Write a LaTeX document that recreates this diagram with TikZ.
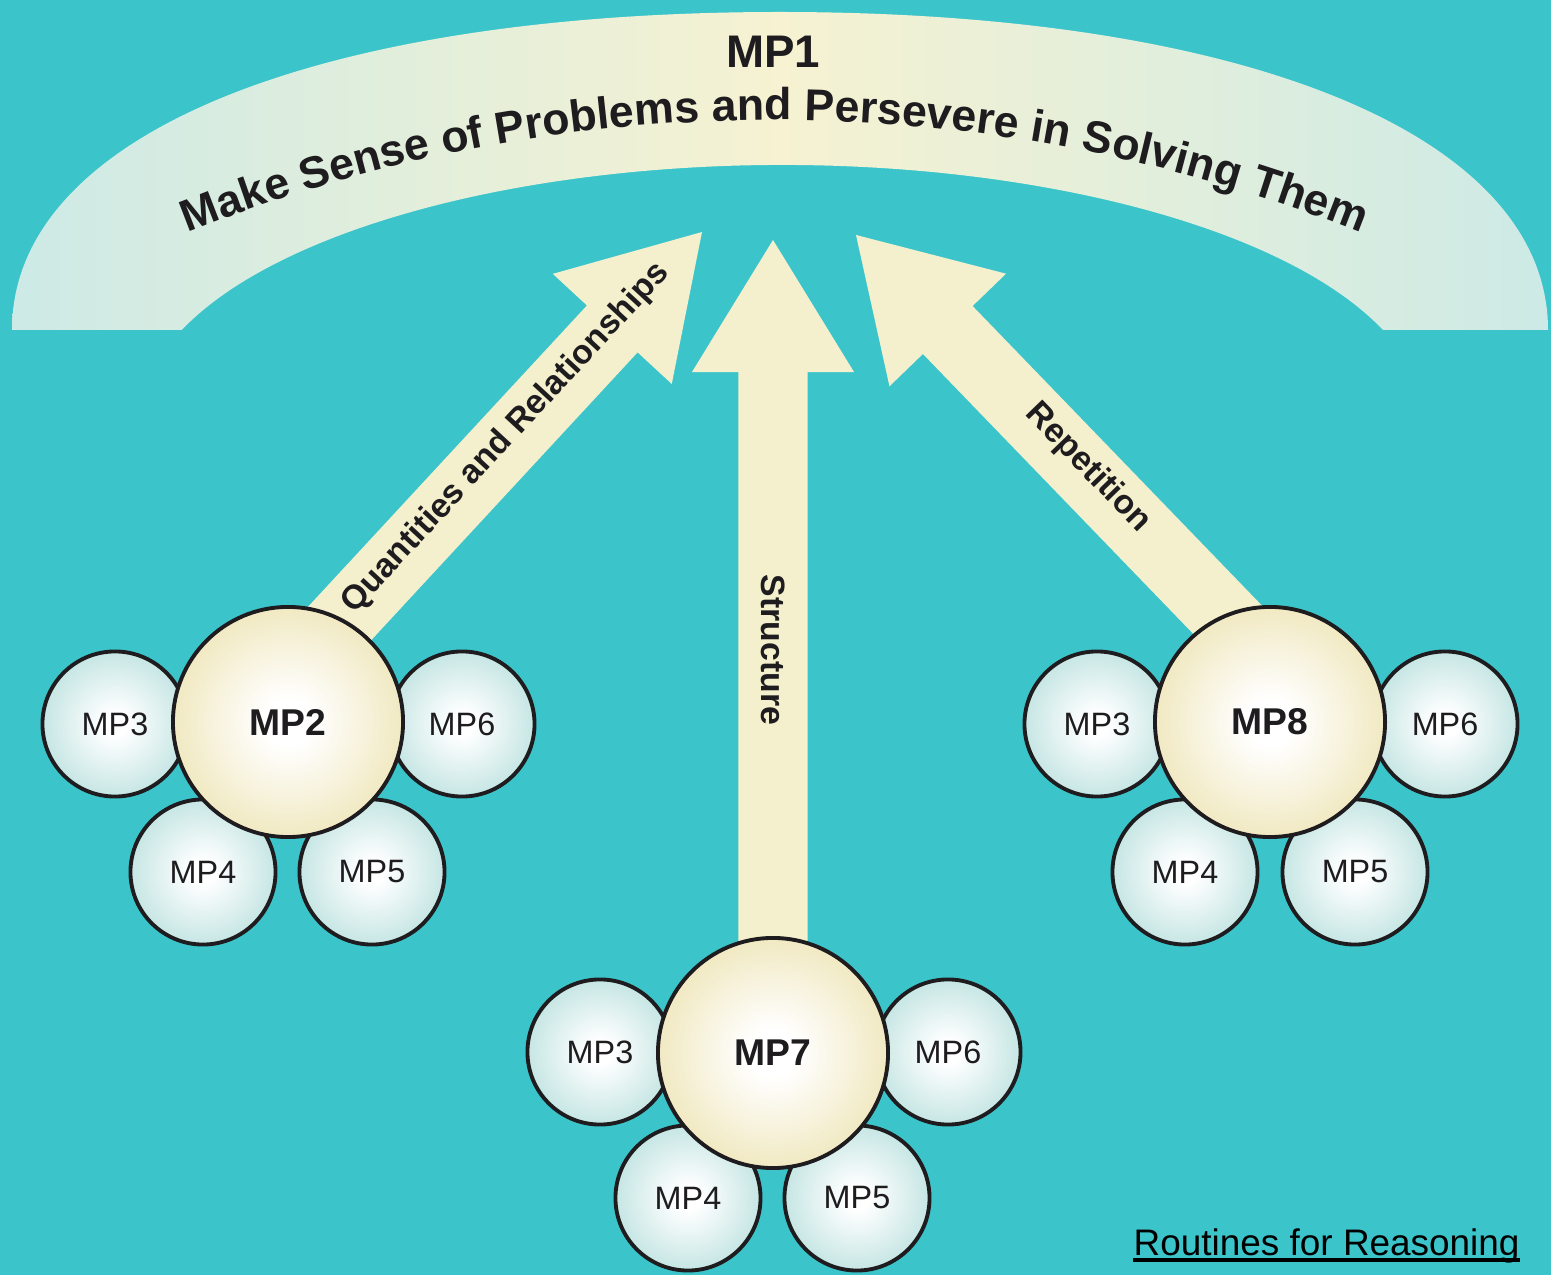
\documentclass[tikz,border=0pt]{standalone}
\usepackage{fontspec}
\setmainfont{Liberation Sans}
\usetikzlibrary{calc,decorations.text}
\definecolor{bg}{RGB}{59,197,203}
\definecolor{cream}{RGB}{244,240,206}
\definecolor{creamedge}{RGB}{241,233,194}
\definecolor{pale}{RGB}{198,230,228}
\definecolor{bandedge}{RGB}{205,234,230}
\definecolor{bandmid}{RGB}{246,242,210}
\definecolor{txt}{RGB}{30,28,30}
\pgfdeclareradialshading{bigshade}{\pgfpoint{0bp}{0bp}}{color(0bp)=(white); color(5bp)=(white); color(25bp)=(creamedge); color(50bp)=(creamedge)}
\pgfdeclareradialshading{smallshade}{\pgfpoint{0bp}{0bp}}{color(0bp)=(white); color(4bp)=(white); color(25bp)=(pale); color(50bp)=(pale)}
\pgfdeclarelayer{back}
\pgfsetlayers{back,main}
\tikzset{
  bigc/.style={circle, draw=txt, line width=1.1pt, minimum size=2.3cm, inner sep=0pt, shade, shading=bigshade, font=\fontsize{10.6pt}{12pt}\selectfont\bfseries, text=txt},
  smallc/.style={circle, draw=txt, line width=1.1pt, minimum size=1.45cm, inner sep=0pt, shade, shading=smallshade, font=\fontsize{9.2pt}{11pt}\selectfont, text=txt},
  lbl/.style={font=\fontsize{9.6pt}{11pt}\selectfont\bfseries, text=txt, inner sep=0pt},
}
\newcommand\blockarr[3]{%
  \coordinate (#3h) at ($(#2)!1.32cm!(#1)$);
  \fill[cream] ($(#1)!0.345cm!90:(#2)$) -- ($(#3h)!0.345cm!90:(#2)$) -- ($(#3h)!0.81cm!90:(#2)$) -- (#2)
    -- ($(#3h)!0.81cm!-90:(#2)$) -- ($(#3h)!0.345cm!-90:(#2)$) -- ($(#1)!0.345cm!-90:(#2)$) -- cycle;
}
\begin{document}
\begin{tikzpicture}[x=0.01cm,y=0.01cm]
\useasboundingbox (0,0) rectangle (1551,1275);
% left cluster
\node[smallc] (l3) at (115,551) {MP3};
\node[smallc] (l6) at (462,551) {MP6};
\node[smallc] (l4) at (203,403) {MP4};
\node[smallc] (l5) at (372,403) {MP5};
\node[bigc] (m2) at (288,553) {MP2};
% middle cluster
\node[smallc] (c3) at (600,223) {MP3};
\node[smallc] (c6) at (948,223) {MP6};
\node[smallc] (c4) at (688,77) {MP4};
\node[smallc] (c5) at (857,77) {MP5};
\node[bigc] (m7) at (773,222) {MP7};
% right cluster
\node[smallc] (r3) at (1097,551) {MP3};
\node[smallc] (r6) at (1445,551) {MP6};
\node[smallc] (r4) at (1185,403) {MP4};
\node[smallc] (r5) at (1355,403) {MP5};
\node[bigc] (m8) at (1270,553) {MP8};

\begin{pgfonlayer}{back}
\fill[bg] (0,0) rectangle (1551,1275);
\shade[left color=bandedge, right color=bandedge, middle color=bandmid]
  (12,945) .. controls (12,1140) and (315,1263) .. (780,1263)
  .. controls (1245,1263) and (1548,1140) .. (1548,945)
  -- (1383,945) arc[start angle=20.67, end angle=159.33, x radius=642, y radius=255] -- cycle;
\coordinate (sL) at ($(m2.center)+(28,73)$);
\coordinate (tipL) at (702,1043);
\coordinate (sM) at ($(m7.center)+(0,93)$);
\coordinate (tipM) at (773,1035);
\coordinate (sR) at ($(m8.center)+(-18,77)$);
\coordinate (tipR) at (856,1040);
\blockarr{sL}{tipL}{L}
\blockarr{sM}{tipM}{M}
\blockarr{sR}{tipR}{R}
\end{pgfonlayer}

\node[font=\fontsize{13pt}{15pt}\selectfont\bfseries, text=txt] (mp1) at (773,1223) {MP1};
\path[decorate, decoration={text along path, text align=center,
  text={|\fontsize{12.7pt}{15pt}\selectfont\bfseries\color{txt}|Make Sense of Problems and Persevere in Solving Them}}]
  (80.9,995) arc[start angle=116, end angle=64, radius=1581];

\node[lbl, rotate=47.2] (qr) at (506,837) {Quantities and Relationships};
\node[lbl, rotate=-90] (st) at (773,625) {Structure};
\node[lbl, rotate=-46] (rp) at (1088,807) {Repetition};

\node[anchor=base west, inner sep=0pt, font=\fontsize{10.5pt}{12pt}\selectfont, text=black] (rr) at (1133,20) {Routines for Reasoning};
\draw[line width=0.9pt] ([yshift=-1.4pt]rr.base west) -- ([yshift=-1.4pt]rr.base east);
\end{tikzpicture}
\end{document}
